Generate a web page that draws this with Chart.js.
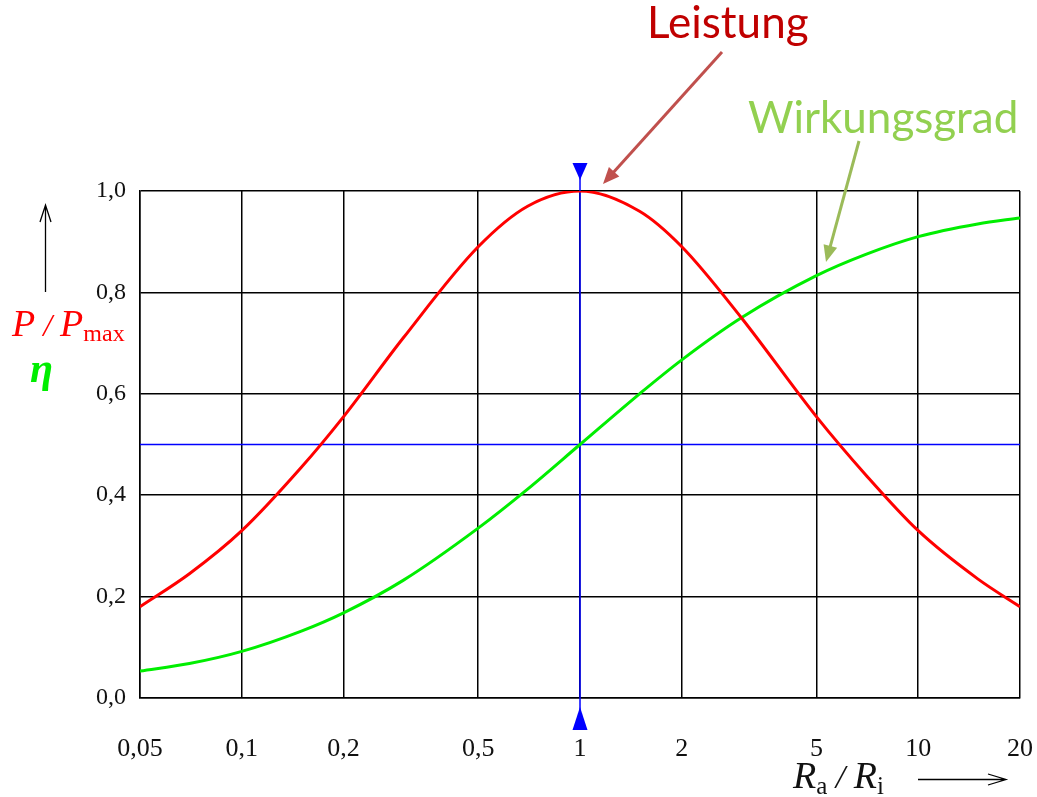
<!DOCTYPE html>
<html>
<head>
<meta charset="utf-8">
<script src="https://cdn.jsdelivr.net/npm/chart.js@4"></script>
<style>
  html, body { margin: 0; padding: 0; background: #fff; }
  canvas { display: block; }
</style>
</head>
<body>
<canvas id="chart" width="1037" height="797"></canvas>
<script>
// resistance ratio Ra/Ri (log axis)
const ratio = [0.05, 0.07, 0.1, 0.15, 0.2, 0.3, 0.5, 0.7, 1, 1.5, 2, 3, 5, 7, 10, 15, 20];
// P/Pmax
const power = [0.18, 0.245, 0.33, 0.455, 0.555, 0.71, 0.89, 0.97, 1.0, 0.96, 0.89, 0.75, 0.555, 0.44, 0.33, 0.235, 0.18];
// efficiency
const efficiency = [0.053, 0.068, 0.092, 0.132, 0.168, 0.232, 0.335, 0.412, 0.5, 0.6, 0.667, 0.75, 0.833, 0.875, 0.91, 0.935, 0.947];
const xTicks = [0.05, 0.1, 0.2, 0.5, 1, 2, 5, 10, 20];
const yTicks = [0, 0.2, 0.4, 0.6, 0.8, 1.0];
const markX = 1;     // matched load
const markY = 0.5;   // efficiency at matched load

const serif = '"Liberation Serif", "DejaVu Serif", serif';

function pts(ys) {
  return ratio.map((x, i) => ({ x: x, y: ys[i] }));
}

function comma(v) {
  return String(v).replace('.', ',');
}

// draws text made of several runs (italic letters, subscripts)
function drawRuns(ctx, x, y, runs) {
  runs.forEach(r => {
    ctx.font = r.font;
    ctx.fillStyle = r.color;
    ctx.fillText(r.t, x, y + (r.dy || 0));
    x += ctx.measureText(r.t).width + (r.gap || 0);
  });
}

function arrow(ctx, x1, y1, x2, y2, color, w, head) {
  const a = Math.atan2(y2 - y1, x2 - x1);
  ctx.strokeStyle = color;
  ctx.fillStyle = color;
  ctx.lineWidth = w;
  ctx.beginPath();
  ctx.moveTo(x1, y1);
  ctx.lineTo(x2 - Math.cos(a) * head * 0.8, y2 - Math.sin(a) * head * 0.8);
  ctx.stroke();
  ctx.beginPath();
  ctx.moveTo(x2, y2);
  ctx.lineTo(x2 - head * Math.cos(a - 0.4), y2 - head * Math.sin(a - 0.4));
  ctx.lineTo(x2 - head * Math.cos(a + 0.4), y2 - head * Math.sin(a + 0.4));
  ctx.closePath();
  ctx.fill();
}

const extras = {
  id: 'extras',
  afterDatasetsDraw(chart) {
    const ctx = chart.ctx;
    const area = chart.chartArea;
    const xs = chart.scales.x;
    const px = xs.getPixelForValue(markX);
    ctx.save();

    // blue marker line extending past the plot, with triangles
    ctx.strokeStyle = '#0000ff';
    ctx.lineWidth = 1.5;
    ctx.beginPath();
    ctx.moveTo(px, area.top - 27);
    ctx.lineTo(px, area.top);
    ctx.moveTo(px, area.bottom);
    ctx.lineTo(px, area.bottom + 30);
    ctx.stroke();
    ctx.fillStyle = '#0000ff';
    ctx.beginPath();
    ctx.moveTo(px - 7.5, area.top - 28);
    ctx.lineTo(px + 7.5, area.top - 28);
    ctx.lineTo(px, area.top - 11);
    ctx.closePath();
    ctx.fill();
    ctx.beginPath();
    ctx.moveTo(px - 7.5, area.bottom + 32);
    ctx.lineTo(px + 7.5, area.bottom + 32);
    ctx.lineTo(px, area.bottom + 9);
    ctx.closePath();
    ctx.fill();

    // annotations
    ctx.textBaseline = 'alphabetic';
    ctx.textAlign = 'left';
    ctx.font = '44px Lato, "Open Sans", sans-serif';
    ctx.fillStyle = '#c00000';
    ctx.fillText('Leistung', 647, 38);
    arrow(ctx, 722, 52, 603, 184, '#c0504d', 3, 18);

    ctx.fillStyle = '#92d050';
    ctx.fillText('Wirkungsgrad', 748, 133);
    arrow(ctx, 859, 141, 826, 262, '#9bbb59', 3, 18);

    // y axis title
    ctx.strokeStyle = '#000';
    ctx.lineWidth = 1.3;
    ctx.beginPath();
    ctx.moveTo(45.5, 292);
    ctx.lineTo(45.5, 205);
    ctx.moveTo(40, 222);
    ctx.lineTo(45.5, 205);
    ctx.lineTo(51, 222);
    ctx.stroke();
    drawRuns(ctx, 12, 336, [
      { t: 'P', font: 'italic 38px ' + serif, color: '#ff0000' },
      { t: ' / ', font: 'italic 32px ' + serif, color: '#ff0000' },
      { t: 'P', font: 'italic 38px ' + serif, color: '#ff0000' },
      { t: 'max', font: '24px ' + serif, color: '#ff0000', dy: 5 }
    ]);
    drawRuns(ctx, 30, 382, [
      { t: 'η', font: 'bold italic 42px ' + serif, color: '#00ee00' }
    ]);

    // x axis title
    drawRuns(ctx, 793, 788, [
      { t: 'R', font: 'italic 38px ' + serif, color: '#111' },
      { t: 'a', font: '25px ' + serif, color: '#111', dy: 6 },
      { t: ' / ', font: 'italic 34px ' + serif, color: '#111' },
      { t: 'R', font: 'italic 38px ' + serif, color: '#111' },
      { t: 'i', font: '25px ' + serif, color: '#111', dy: 6 }
    ]);
    ctx.beginPath();
    ctx.moveTo(918, 779.5);
    ctx.lineTo(1006, 779.5);
    ctx.moveTo(988, 774);
    ctx.lineTo(1006, 779.5);
    ctx.lineTo(988, 785);
    ctx.stroke();

    ctx.restore();
  }
};

new Chart(document.getElementById('chart'), {
  type: 'line',
  data: {
    datasets: [
      {
        label: 'P/Pmax',
        data: pts(power),
        borderColor: '#ff0000',
        borderWidth: 3,
        pointRadius: 0,
        cubicInterpolationMode: 'monotone'
      },
      {
        label: 'eta',
        data: pts(efficiency),
        borderColor: '#00ee00',
        borderWidth: 3,
        pointRadius: 0,
        cubicInterpolationMode: 'monotone'
      },
      {
        label: 'h',
        data: [{ x: xTicks[0], y: markY }, { x: xTicks[xTicks.length - 1], y: markY }],
        borderColor: '#0000ff',
        borderWidth: 1.3,
        pointRadius: 0
      },
      {
        label: 'v',
        data: [{ x: markX, y: 0 }, { x: markX, y: 1 }],
        borderColor: '#0000ff',
        borderWidth: 1.5,
        pointRadius: 0
      }
    ]
  },
  options: {
    responsive: false,
    animation: false,
    layout: { padding: { top: 191, right: 17, left: 0, bottom: 0 } },
    plugins: { legend: { display: false }, tooltip: { enabled: false } },
    scales: {
      x: {
        type: 'logarithmic',
        min: xTicks[0],
        max: xTicks[xTicks.length - 1],
        afterBuildTicks: s => { s.ticks = xTicks.map(v => ({ value: v })); },
        afterFit: s => { s.height = 99; s.paddingLeft = 0; s.paddingRight = 0; },
        grid: { color: '#000', lineWidth: 1.5, drawTicks: false },
        border: { color: '#000', width: 1.5 },
        ticks: {
          autoSkip: false,
          maxRotation: 0,
          padding: 36,
          color: '#111',
          font: { family: serif, size: 26 },
          callback: v => comma(v)
        }
      },
      y: {
        min: 0,
        max: 1,
        afterBuildTicks: s => { s.ticks = yTicks.map(v => ({ value: v })); },
        afterFit: s => { s.width = 140; s.paddingTop = 0; s.paddingBottom = 0; },
        grid: { color: '#000', lineWidth: 1.5, drawTicks: false },
        border: { color: '#000', width: 1.5 },
        ticks: {
          padding: 14,
          color: '#111',
          font: { family: serif, size: 24 },
          callback: v => comma(v.toFixed(1))
        }
      }
    }
  },
  plugins: [extras]
});
</script>
</body>
</html>
